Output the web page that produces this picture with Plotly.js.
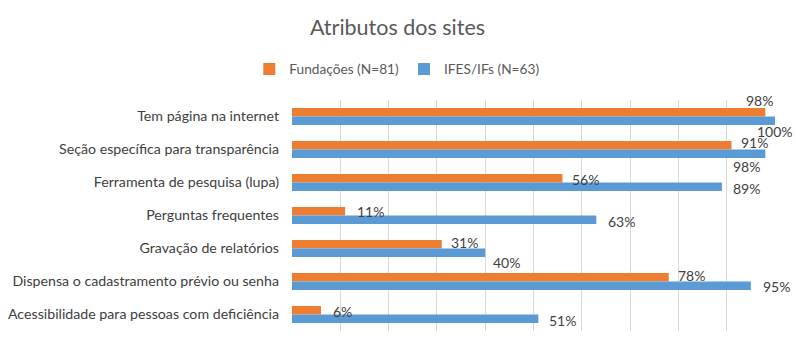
<!DOCTYPE html>
<html>
<head>
<meta charset="utf-8">
<script src="https://cdn.plot.ly/plotly-3.0.1.min.js"></script>
<style>
html,body{margin:0;padding:0;background:#fff;}
#chart{width:795px;height:351px;outline:1px solid #d9d9d9;outline-offset:-1px;}
</style>
</head>
<body>
<div id="chart"></div>
<script>
var categories = [
  "Tem página na internet",
  "Seção específica para transparência",
  "Ferramenta de pesquisa (lupa)",
  "Perguntas frequentes",
  "Gravação de relatórios",
  "Dispensa o cadastramento prévio ou senha",
  "Acessibilidade para pessoas com deficiência"
];
var seriesNames = ["Fundações (N=81)", "IFES/IFs (N=63)"];
var fundacoes = [98, 91, 56, 11, 31, 78, 6];
var ifes = [100, 98, 89, 63, 40, 95, 51];

// label placement offsets (pixels): [xshift, yshift]
var shiftF = [[-20,16.5],[8.5,7.5],[8.4,3.5],[11,4],[7.8,6.3],[8,6.3],[11,2.7]];
var shiftI = [[-19.5,-14.8],[-33,-16.7],[10,-5.5],[11,-5.7],[6.7,-14.3],[11.5,-5.3],[9.5,-6.3]];

var font = "Lato, 'Open Sans', sans-serif";
var colF = "#ED7D31", colI = "#5B9BD5";

var traces = [
  {type:"bar", orientation:"h", name:seriesNames[0], y:categories, x:fundacoes,
   marker:{color:colF}, hoverinfo:"skip"},
  {type:"bar", orientation:"h", name:seriesNames[1], y:categories, x:ifes,
   marker:{color:colI}, hoverinfo:"skip"}
];

var annotations = [];
function addLabels(vals, shifts){
  for (var i=0;i<vals.length;i++){
    annotations.push({x:vals[i], y:categories[i], xref:"x", yref:"y",
      text:vals[i]+"%", showarrow:false, xanchor:"left", yanchor:"middle",
      xshift:shifts[i][0], yshift:shifts[i][1], borderpad:0,
      font:{family:font, size:14, color:"#404040"}});
  }
}
addLabels(fundacoes, shiftF);
addLabels(ifes, shiftI);

var layout = {
  width:795, height:351,
  margin:{l:292, r:20, t:100, b:20, autoexpand:false},
  paper_bgcolor:"#ffffff", plot_bgcolor:"#ffffff",
  title:{text:"Atributos dos sites", x:0.5, xanchor:"center", y:0.923, yanchor:"middle",
    font:{family:font, size:21.5, color:"#595959"}},
  barmode:"group", bargap:0.485, bargroupgap:0,
  showlegend:true,
  legend:{orientation:"h", x:0.218, xanchor:"center", y:1.134, yanchor:"middle",
    font:{family:font, size:13.7, color:"#595959"}, itemwidth:30, traceorder:"normal"},
  xaxis:{range:[0,100], dtick:10, showticklabels:false, showgrid:true, gridcolor:"#d9d9d9",
    zeroline:false, showline:false, fixedrange:true},
  yaxis:{type:"category", autorange:false, range:[categories.length-0.5, -0.5],
    showgrid:false, zeroline:false, showline:false,
    ticks:"", ticklabelstandoff:12, tickfont:{family:font, size:14.2, color:"#404040"}, fixedrange:true},
  annotations:annotations
};

Plotly.newPlot("chart", traces, layout, {displayModeBar:false, staticPlot:true});
</script>
</body>
</html>
